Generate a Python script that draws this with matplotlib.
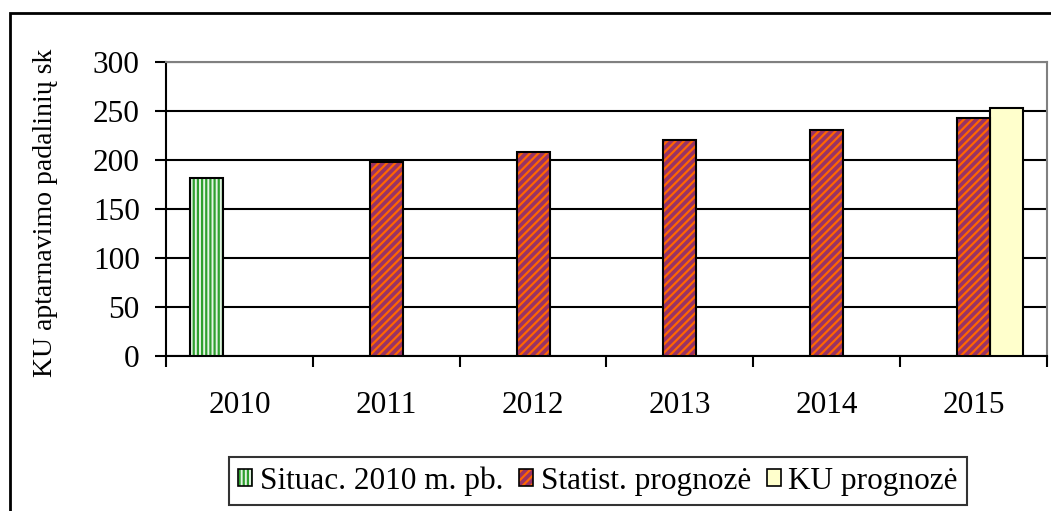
import matplotlib
matplotlib.use('Agg')
import matplotlib.pyplot as plt
from matplotlib.patches import Patch, Rectangle
from matplotlib.transforms import Bbox, TransformedBbox
from matplotlib.legend_handler import HandlerTuple
import numpy as np

years = ['2010', '2011', '2012', '2013', '2014', '2015']
situac = [182, 0, 0, 0, 0, 0]
statist = [0, 198, 208, 220, 231, 243]
ku = [0, 0, 0, 0, 0, 253]
labels = ['Situac. 2010 m. pb.', 'Statist. prognozė', 'KU prognozė']

plt.rcParams['font.family'] = ['Liberation Serif', 'DejaVu Serif']
plt.rcParams['hatch.linewidth'] = 1.6

fig = plt.figure(figsize=(10.51, 5.11), dpi=100)
ax = fig.add_axes([0.158, 0.3033, 0.838, 0.5754])

x = np.arange(len(years))
w = 0.225

styles = [
    (situac, -w, '#e4f4e4', '#2fa02f', '||||'),
    (statist, 0, '#993366', '#ff6600', '////'),
    (ku, w, '#ffffcc', '#ffffcc', None),
]
handles = []
for vals, off, fc, hc, hatch in styles:
    vals = np.array(vals, dtype=float)
    mask = vals > 0
    ax.bar(x[mask] + off, vals[mask], w, color=fc, edgecolor=hc,
           hatch=hatch, linewidth=0, zorder=3)
    ax.bar(x[mask] + off, vals[mask], w, fill=False, edgecolor='black',
           linewidth=1.5, zorder=4)
    handles.append((Patch(facecolor=fc, edgecolor=hc, hatch=hatch, linewidth=0),
                    Patch(fill=False, edgecolor='black', linewidth=1.2)))

ax.set_xlim(-0.5, 5.5)
ax.set_ylim(0, 300)
ax.set_yticks(range(0, 301, 50))
ax.yaxis.grid(True, color='black', linewidth=1.5, zorder=0)
ax.set_axisbelow(True)

ax.set_xticks(np.arange(-0.5, 6, 1))
ax.set_xticklabels([])
ax.set_xticks(x, minor=True)
ax.set_xticklabels(years, minor=True)
ax.tick_params(axis='x', which='major', direction='out', length=8, width=1.5)
ax.tick_params(axis='x', which='minor', length=0, pad=25, labelsize=22.5)
ax.tick_params(axis='y', direction='out', length=8, width=1.5, pad=11, labelsize=22.5)

for s in ['left', 'bottom']:
    ax.spines[s].set_linewidth(1.5)
    ax.spines[s].set_color('black')
for s in ['top', 'right']:
    ax.spines[s].set_linewidth(1.5)
    ax.spines[s].set_color('#808080')

# y label: cut at the top like in the original
yl = fig.text(46 / 1051, 1 - 377 / 511, 'KU aptarnavimo padalinių sk', rotation=90,
              ha='center', va='bottom', fontsize=20)
yl.set_clip_box(TransformedBbox(Bbox([[0, 0], [1, 1 - 47 / 511]]), fig.transFigure))
yl.set_clip_on(True)

leg = fig.legend(handles, labels, loc='center', bbox_to_anchor=(598 / 1051, 1 - 481 / 511),
                 ncol=3, fontsize=22.5, frameon=True, fancybox=False, handlelength=0.45,
                 handleheight=0.45, handletextpad=0.25, columnspacing=0.5, borderpad=0.3,
                 handler_map={tuple: HandlerTuple(ndivide=1)})
leg.get_frame().set_edgecolor('black')
leg.get_frame().set_linewidth(1.5)

fig.patches.append(Rectangle((10 / 1051, -0.05), 1.1, 1 - 13 / 511 + 0.05,
                             transform=fig.transFigure, fill=False,
                             edgecolor='black', linewidth=2, zorder=0))

fig.savefig('out.png', dpi=100)
